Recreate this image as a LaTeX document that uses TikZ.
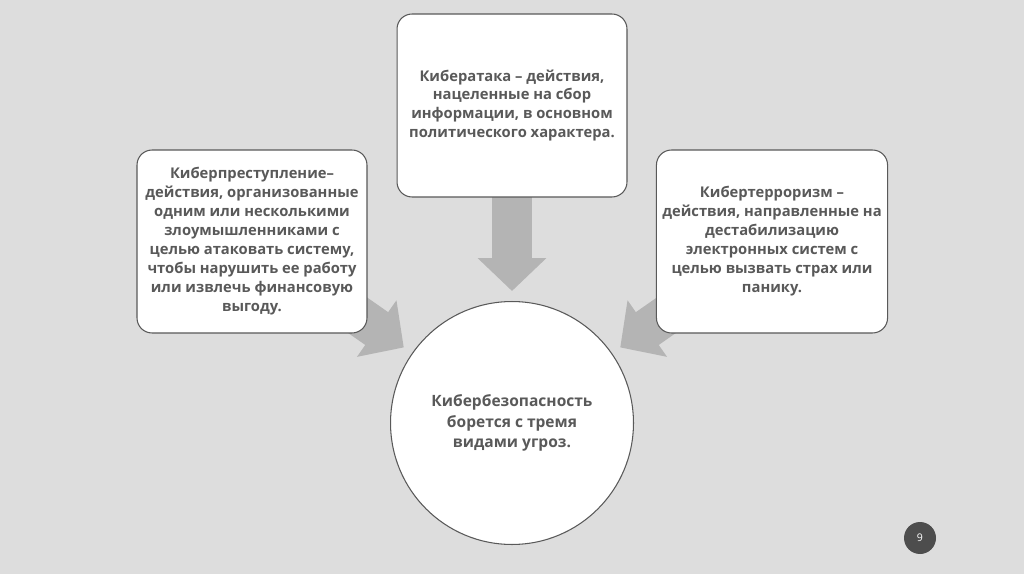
\documentclass[tikz,border=0pt]{standalone}
\usepackage{fontspec}
\setmainfont{Open Sans}
\usetikzlibrary{arrows.meta}

\definecolor{slidebg}{RGB}{221,221,221}
\definecolor{boxline}{RGB}{89,89,89}
\definecolor{boxtext}{RGB}{89,89,89}
\definecolor{arrowgray}{RGB}{180,180,180}
\definecolor{pagedot}{RGB}{77,77,77}

\pgfdeclarelayer{background}
\pgfdeclarelayer{arrowlayer}
\pgfsetlayers{background,arrowlayer,main}

\tikzset{
  boxfont/.style={font=\fontsize{8.4}{10.8}\selectfont\bfseries},
  threatbox/.style={draw=boxline, line width=0.6pt, fill=white, rounded corners=0.3cm,
    minimum width=4.6cm, minimum height=3.66cm, align=center, text=boxtext, boxfont},
  hubcircle/.style={circle, draw=boxline, line width=0.6pt, fill=white,
    minimum size=4.86cm, align=center, text=boxtext,
    font=\fontsize{8.85}{11.6}\selectfont\bfseries},
  bigarrow/.style={draw=arrowgray, line width=0.8cm,
    -{Triangle[width=1.34cm,length=0.66cm]}, shorten >=0.2cm}
}

\begin{document}
\begin{tikzpicture}[x=0.02cm,y=-0.02cm]
  % Slide background
  \begin{pgfonlayer}{background}
    \fill[slidebg] (0,0) rectangle (1024,574);
  \end{pgfonlayer}
  \useasboundingbox (0,0) rectangle (1024,574);

  % Three threats
  \node[threatbox] (attack) at (512,105.5) {Кибератака – действия,\\нацеленные на сбор\\информации, в основном\\политического характера.};
  \node[threatbox] (crime) at (252,241.5) {Киберпреступление–\\действия, организованные\\одним или несколькими\\злоумышленниками с\\целью атаковать систему,\\чтобы нарушить ее работу\\или извлечь финансовую\\выгоду.};
  \node[threatbox] (terror) at (772,241.5) {Кибертерроризм –\\действия, направленные на\\дестабилизацию\\электронных систем с\\целью вызвать страх или\\панику.};

  % Cybersecurity
  \node[hubcircle] (hub) at (512,423) {Кибербезопасность\\борется с тремя\\видами угроз.};

  % Arrows behind the boxes
  \begin{pgfonlayer}{arrowlayer}
    \draw[bigarrow] (attack.center) -- (hub);
    \draw[bigarrow] (crime.center) -- (hub);
    \draw[bigarrow] (terror.center) -- (hub);
  \end{pgfonlayer}

  % Page number
  \node[circle, fill=pagedot, minimum size=0.64cm, inner sep=0pt, text=white,
    font=\fontsize{6}{7}\selectfont] (pagenum) at (920,538) {9};
\end{tikzpicture}
\end{document}
